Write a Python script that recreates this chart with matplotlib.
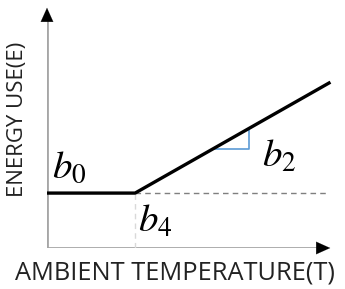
import matplotlib
matplotlib.use("Agg")
import matplotlib.pyplot as plt

# data (abstract units)
T_line = [0.0, 3.08, 9.86]
E_line = [2.26, 2.26, 6.79]
b4 = 3.08
b0 = 2.26
tri_x = [5.8, 7.06]
x_label = "AMBIENT TEMPERATURE(T)"
y_label = "ENERGY USE(E)"

W, H = 345, 289
fig = plt.figure(figsize=(W/100, H/100), dpi=100)
ax = fig.add_axes([47/W, (H-248)/H, 286/W, 243/H])
ax.set_xlim(0, 10)
ax.set_ylim(0, 10)
ax.axis("off")

slope = (E_line[2]-E_line[1])/(T_line[2]-T_line[1])

# axes with arrows
ax.plot([0, 9.6], [0, 0], color="#a6a6a6", lw=2, solid_capstyle="butt", zorder=2)
ax.plot([0, 0], [0, 9.5], color="#a6a6a6", lw=2, solid_capstyle="butt", zorder=2)
ax.annotate("", xy=(10, 0), xytext=(9.5, 0),
            arrowprops=dict(arrowstyle="-|>,head_length=1.0,head_width=0.45", color="black", lw=0.1))
ax.annotate("", xy=(0, 10), xytext=(0, 9.4),
            arrowprops=dict(arrowstyle="-|>,head_length=1.0,head_width=0.45", color="black", lw=0.1))

# dashed references
ax.plot([b4, T_line[2]], [b0, b0], color="#7f7f7f", lw=1, ls=(0, (4, 3)), zorder=2)
ax.plot([b4, b4], [0, b0], color="#d9d9d9", lw=1, ls=(0, (4, 3)), zorder=2)

# main line
ax.plot(T_line, E_line, color="black", lw=2.4, zorder=3)

# blue slope triangle
y1 = E_line[1] + slope*(tri_x[0]-T_line[1])
y2 = E_line[1] + slope*(tri_x[1]-T_line[1])
ax.plot([tri_x[0], tri_x[1], tri_x[1]], [y1, y1, y2], color="#5b9bd5", lw=1.2, zorder=2)

# labels
mfont = dict(fontsize=28, math_fontfamily="stix")
ax.text(0.18, 2.88, r"$b_0$", ha="left", va="baseline", **mfont)
ax.text(7.5, 3.33, r"$b_2$", ha="left", va="baseline", **mfont)
ax.text(3.18, 0.66, r"$b_4$", ha="left", va="baseline", **mfont)

fig.text(175/W, 1-273.5/H, x_label, ha="center", va="center", fontsize=18.3, family="Open Sans", color="#222222")
fig.text(17.5/W, 1-119.5/H, y_label, ha="center", va="center", rotation=90, fontsize=16, family="Open Sans", color="#222222")

fig.savefig("out.png", dpi=100)
